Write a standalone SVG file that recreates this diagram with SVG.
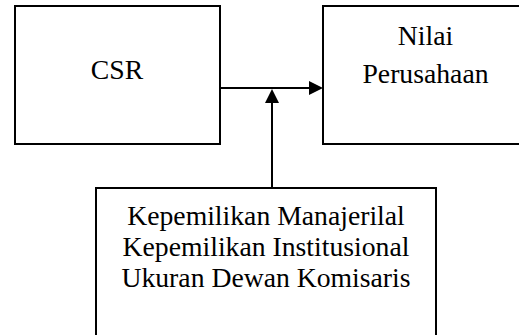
<svg xmlns="http://www.w3.org/2000/svg" width="519" height="335" viewBox="0 0 519 335">
<style>
.box{fill:#fff;stroke:#000;stroke-width:2}
.t{font-family:"Liberation Serif","Times New Roman",serif;font-size:27.7px;fill:#000;text-anchor:middle}
.ln{stroke:#000;stroke-width:2;fill:none}
.ah{fill:#000}
</style>
<rect width="519" height="335" fill="#fff"/>
<g id="csr">
<rect class="box" x="15" y="6" width="205" height="138"/>
<text class="t" x="117" y="78.5">CSR</text>
</g>
<g id="nilai">
<rect class="box" x="323" y="6" width="205" height="138"/>
<text class="t" x="425.5" y="44.5">Nilai</text>
<text class="t" x="425.5" y="83">Perusahaan</text>
</g>
<g id="moderasi">
<rect class="box" x="96" y="188" width="340" height="148"/>
<text class="t" x="266" y="225">Kepemilikan Manajerilal</text>
<text class="t" x="266" y="256">Kepemilikan Institusional</text>
<text class="t" x="266" y="286.5">Ukuran Dewan Komisaris</text>
</g>
<g id="connectors">
<line class="ln" x1="220" y1="88" x2="310" y2="88"/>
<polygon class="ah" points="309,81 323,88 309,95"/>
<line class="ln" x1="272" y1="188" x2="272" y2="102"/>
<polygon class="ah" points="265,103 272,89 279,103"/>
</g>
</svg>
